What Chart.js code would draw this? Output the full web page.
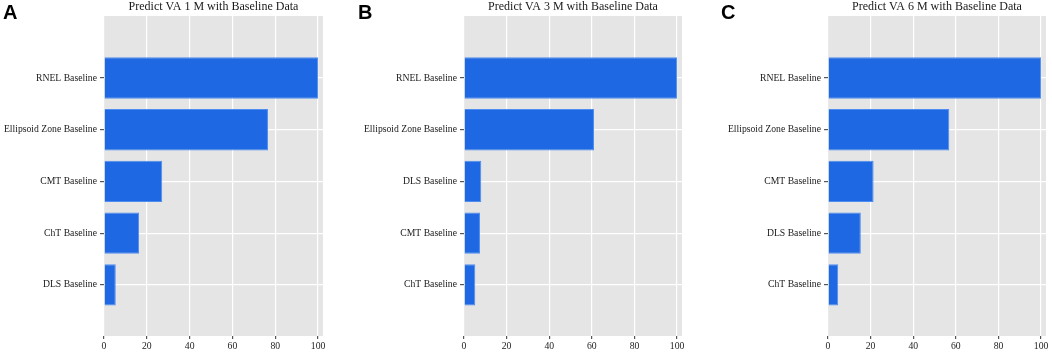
<!DOCTYPE html>
<html>
<head>
<meta charset="utf-8">
<script src="https://cdn.jsdelivr.net/npm/chart.js@4"></script>
<style>
  html, body { margin:0; padding:0; background:#fff; }
  #wrap { position:relative; width:1052px; height:353px; overflow:hidden; }
  canvas { position:absolute; top:0; }
  .tag { position:absolute; top:2px; font:bold 20px "Liberation Sans", Arial, sans-serif; line-height:20px; color:#000; }
</style>
</head>
<body>
<div id="wrap">
  <canvas id="chartA" width="350" height="353" style="left:0px"></canvas>
  <canvas id="chartB" width="350" height="353" style="left:350px"></canvas>
  <canvas id="chartC" width="352" height="353" style="left:700px"></canvas>
  <div class="tag" style="left:3px">A</div>
  <div class="tag" style="left:358px">B</div>
  <div class="tag" style="left:721px">C</div>
</div>
<script>
// ---------- dados ----------
const titleA  = "Predict VA 1 M with Baseline Data";
const labelsA = ["RNEL Baseline", "Ellipsoid Zone Baseline", "CMT Baseline", "ChT Baseline", "DLS Baseline"];
const valuesA = [100, 76.6, 27.2, 16.4, 5.5];

const titleB  = "Predict VA 3 M with Baseline Data";
const labelsB = ["RNEL Baseline", "Ellipsoid Zone Baseline", "DLS Baseline", "CMT Baseline", "ChT Baseline"];
const valuesB = [100, 61.0, 8.1, 7.5, 5.3];

const titleC  = "Predict VA 6 M with Baseline Data";
const labelsC = ["RNEL Baseline", "Ellipsoid Zone Baseline", "CMT Baseline", "DLS Baseline", "ChT Baseline"];
const valuesC = [100, 56.9, 21.4, 15.4, 4.8];

const xTicks = [0, 20, 40, 60, 80, 100];

// ---------- estilo ----------
const SERIF = '"Liberation Serif", "Times New Roman", serif';
const BAR   = "#1e69e3";
const EDGE  = "#4f8cf0";
const PANEL = "#e5e5e5";

Chart.defaults.animation = false;

// fundo cinza da área do gráfico
const panelBg = {
  id: "panelBg",
  beforeDraw(chart) {
    const { ctx, chartArea: a } = chart;
    ctx.save();
    ctx.fillStyle = PANEL;
    ctx.fillRect(a.left, a.top, a.right - a.left, a.bottom - a.top);
    ctx.restore();
  }
};

function makeChart(id, title, labels, values, axisW, padRight) {
  return new Chart(document.getElementById(id).getContext("2d"), {
    type: "bar",
    data: {
      datasets: [{
        data: values.map((v, i) => ({ x: v, y: i })),
        backgroundColor: BAR,
        borderColor: EDGE,
        borderWidth: 1,
        barPercentage: 0.8,
        categoryPercentage: 1
      }]
    },
    options: {
      indexAxis: "y",
      responsive: false,
      layout: { padding: { top: 0, right: padRight, left: 0, bottom: 0 } },
      plugins: {
        legend: { display: false },
        tooltip: { enabled: false },
        title: {
          display: true, text: title, fullSize: false,
          color: "#1a1a1a", font: { family: SERIF, size: 12, weight: "normal", lineHeight: 1 },
          padding: { top: 1, bottom: 3 }
        }
      },
      scales: {
        x: {
          type: "linear", min: 0, max: 102.3,
          afterBuildTicks: s => { s.ticks = xTicks.map(v => ({ value: v })); },
          afterFit: s => { s.height = 17; },
          grid: { color: "#ffffff", lineWidth: 1.2, tickColor: "#555", tickLength: 3 },
          border: { display: false },
          ticks: { color: "#1a1a1a", font: { family: SERIF, size: 9.7 }, padding: 2, maxRotation: 0 }
        },
        y: {
          type: "linear", min: -1.2, max: 4.99, reverse: true,
          offset: false,
          afterBuildTicks: s => { s.ticks = labels.map((_, i) => ({ value: i })); },
          afterFit: s => { s.width = axisW; },
          grid: { offset: false, color: "#ffffff", lineWidth: 1.2, tickColor: "#555", tickLength: 4 },
          border: { display: false },
          ticks: { color: "#1a1a1a", font: { family: SERIF, size: 9.7 }, padding: 3,
                   callback: v => labels[v] ?? "" }
        }
      }
    },
    plugins: [panelBg]
  });
}

makeChart("chartA", titleA, labelsA, valuesA, 104, 27);
makeChart("chartB", titleB, labelsB, valuesB, 114, 18);
makeChart("chartC", titleC, labelsC, valuesC, 128, 6);
</script>
</body>
</html>
